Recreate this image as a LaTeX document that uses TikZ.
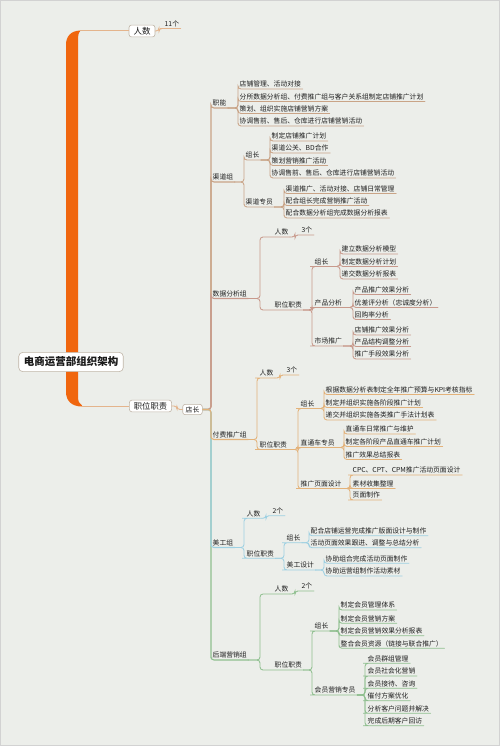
\documentclass[tikz,border=0pt]{standalone}
\usepackage{fontspec}
\newfontfamily\cjk{Noto Sans CJK SC}
\definecolor{bgc}{HTML}{ECEEEA}
\definecolor{boxc}{HTML}{BFB4A6}
\definecolor{orng}{HTML}{F0660E}
\definecolor{topc}{HTML}{E4B48C}
\definecolor{ca}{HTML}{C9A487}
\definecolor{cb}{HTML}{C8998C}
\definecolor{cc}{HTML}{E3B27A}
\definecolor{cd}{HTML}{9DD0E2}
\definecolor{ce}{HTML}{8FBF8F}
\newcommand\cn[4]{\draw[ln,#1] (#2.south east) -- (#2.south east -| #4) |- (#3.south west) -- (#3.south east);}
\newcommand\leaves[5]{\coordinate (T) at (#3,0);
  \foreach \yy/\tx [count=\i] in {#5}{\node[t] (#2-\i) at (#4,\yy) {\tx}; \cn{#1}{#2}{#2-\i}{T}}}
\newcommand\spn[2]{\draw[ln,line width=1.1pt,#1] (dz.east) -- (dz.east -| Ts) |- (#2.south west) -- (#2.south east);}
\begin{document}
\begin{tikzpicture}[x=1pt,y=-1pt,
  t/.style={font=\cjk\fontsize{6.8}{7}\selectfont, text=black!88, inner xsep=1.5pt, inner ysep=1.2pt, anchor=south west, text height=5.6pt, text depth=0.9pt},
  box/.style={draw=boxc, fill=white, rounded corners=2.5pt, line width=0.6pt, inner xsep=3pt, inner ysep=2pt, text=black!90},
  ln/.style={line width=0.85pt, rounded corners=3pt, line cap=round}]
\fill[bgc] (0,0) rectangle (500,746);
\useasboundingbox (0,0) rectangle (500,746);
\draw[gray!35, line width=0.8pt] (0.5,0.5) rectangle (499.5,745.5);
% orange bar
\fill[orng] (66,392) -- (66,45) .. controls (66,36) and (71,31) .. (80,30.5) -- (80,31.5) .. controls (78.5,32.5) and (78,35) .. (78,42) -- (78,396) .. controls (78,401) and (79,404) .. (82,405.5) -- (82,406.5) .. controls (72,406.5) and (66,401) .. (66,392) -- cycle;
\coordinate (bt) at (80,31);
\coordinate (bb) at (82,406);
% boxes
\node[box, font=\cjk\bfseries\fontsize{10.5}{12}\selectfont, inner xsep=5pt, inner ysep=4.5pt, rounded corners=4pt] (root) at (71,362) {电商运营部组织架构};
\node[box, font=\cjk\fontsize{8.5}{10}\selectfont, inner xsep=4.5pt] (rs) at (142,31) {人数};
\node[box, font=\cjk\fontsize{8.3}{10}\selectfont, inner xsep=4.5pt] (zz) at (150.5,406) {职位职责};
\node[box, font=\cjk\fontsize{6.8}{8}\selectfont] (dz) at (192.5,409.5) {店长};
\draw[topc, line width=1pt] (bt) -- (rs.west);
\draw[topc, line width=1pt] (bb) -- (zz.west);
\node[t] (n11) at (163,28.5) {11个};
\coordinate (T11) at (159,0);
\draw[ln,topc] (rs.east) -- (rs.east -| T11) |- (n11.south west) -- (n11.south east);
\coordinate (Tdz) at (177,0);
\draw[ln,topc] (zz.east) -- (zz.east -| Tdz) |- (dz.west);
% groups on spine
\coordinate (Ts) at (211,0);
\node[t] (zn) at (211,108) {职能};
\node[t] (qd) at (211,182) {渠道组};
\node[t] (sj) at (211,298.5) {数据分析组};
\node[t] (ff) at (211,439.5) {付费推广组};
\node[t] (mg) at (211,547.5) {美工组};
\node[t] (hd) at (211,660) {后端营销组};
\spn{ca}{zn}
\spn{ca}{qd}
\spn{cb}{sj}
\spn{ce}{hd}
\spn{cd}{mg}
\spn{cc}{ff}
% 职能
\leaves{ca}{zn}{238}{238}{89/店铺管理、活动对接, 101.5/分所数据分析组、付费推广组与客户关系组制定店铺推广计划, 113.5/策划、组织实施店铺营销方案, 126/协调售前、售后、仓库进行店铺营销活动}
% 渠道组
\coordinate (Tq) at (244,0);
\node[t] (qzz) at (244,160) {组长};
\node[t] (qzy) at (244,207) {渠道专员};
\cn{ca}{qd}{qzz}{Tq}
\cn{ca}{qd}{qzy}{Tq}
\leaves{ca}{qzz}{270}{270}{141/制定店铺推广计划, 153/渠道公关、BD合作, 165.5/策划营销推广活动, 178/协调售前、售后、仓库进行店铺营销活动}
\leaves{ca}{qzy}{284}{284}{193.5/渠道推广、活动对接、店铺日常管理, 205.5/配合组长完成营销推广活动, 218/配合数据分析组完成数据分析报表}
% 数据分析组
\coordinate (Tsj) at (260,0);
\node[t] (srs) at (273,237) {人数};
\node[t] (szz) at (273,310) {职位职责};
\cn{cb}{sj}{srs}{Tsj}
\cn{cb}{sj}{szz}{Tsj}
\leaves{cb}{srs}{295}{300}{235/3个}
\coordinate (Tsz) at (312,0);
\node[t] (dzl) at (313,266.5) {组长};
\node[t] (cpfx) at (313,307.5) {产品分析};
\node[t] (sctg) at (313,346) {市场推广};
\cn{cb}{szz}{dzl}{Tsz}
\cn{cb}{szz}{cpfx}{Tsz}
\cn{cb}{szz}{sctg}{Tsz}
\leaves{cb}{dzl}{340}{340}{254/建立数据分析模型, 266.5/制定数据分析计划, 279/递交数据分析报表}
\leaves{cb}{cpfx}{353}{353}{294.5/产品推广效果分析, 307.5/优差评分析（忠诚度分析）, 319.5/回购率分析}
\leaves{cb}{sctg}{353}{353}{335/店铺推广效果分析, 346.5/产品结构调整分析, 359/推广手段效果分析}
% 付费推广组
\coordinate (Tff) at (257,0);
\node[t] (frs) at (258,378) {人数};
\node[t] (fzz) at (258,449.5) {职位职责};
\cn{cc}{ff}{frs}{Tff}
\cn{cc}{ff}{fzz}{Tff}
\leaves{cc}{frs}{280}{285}{375/3个}
\coordinate (Tfz) at (298,0);
\node[t] (fzl) at (299,408.5) {组长};
\node[t] (ztc) at (299,447.5) {直通车专员};
\node[t] (tgym) at (299,488.5) {推广页面设计};
\cn{cc}{fzz}{fzl}{Tfz}
\cn{cc}{fzz}{ztc}{Tfz}
\cn{cc}{fzz}{tgym}{Tfz}
\leaves{cc}{fzl}{324}{324}{394.5/根据数据分析表制定全年推广预算与KPI考核指标, 407.5/制定并组织实施各阶段推广计划, 420/递交并组织实施各类推广手法计划表}
\leaves{cc}{ztc}{344}{344}{434/直通车日常推广与维护, 446.5/制定各阶段产品直通车推广计划, 459.5/推广效果总结报表}
\leaves{cc}{tgym}{350}{351}{475/CPC、CPT、CPM推广活动页面设计, 488.5/素材收集整理, 500/页面制作}
% 美工组
\coordinate (Tmg) at (244,0);
\node[t] (mrs) at (245,518.3) {人数};
\node[t] (mzz) at (245,558.3) {职位职责};
\cn{cd}{mg}{mrs}{Tmg}
\cn{cd}{mg}{mzz}{Tmg}
\leaves{cd}{mrs}{266}{271}{515.7/2个}
\coordinate (Tmz) at (284,0);
\node[t] (mzl) at (285,542.7) {组长};
\node[t] (mgsj) at (285,570) {美工设计};
\cn{cd}{mzz}{mzl}{Tmz}
\cn{cd}{mzz}{mgsj}{Tmz}
\leaves{cd}{mzl}{309}{309}{535.7/配合店铺运营完成推广版面设计与制作, 547.7/活动页面效果跟进、调整与总结分析}
\leaves{cd}{mgsj}{324}{324}{563.3/协助组合完成活动页面制作, 576/协助运营组制作活动素材}
% 后端营销组
\coordinate (Thd) at (260,0);
\node[t] (hrs) at (273,594) {人数};
\node[t] (hzz) at (273,670) {职位职责};
\cn{ce}{hd}{hrs}{Thd}
\cn{ce}{hd}{hzz}{Thd}
\leaves{ce}{hrs}{295}{300}{591/2个}
\coordinate (Thz) at (312,0);
\node[t] (hzl) at (313,631) {组长};
\node[t] (hyzy) at (313,695) {会员营销专员};
\cn{ce}{hzz}{hzl}{Thz}
\cn{ce}{hzz}{hyzy}{Thz}
\leaves{ce}{hzl}{339}{339}{610/制定会员管理体系, 623.3/制定会员营销方案, 635.7/制定会员营销效果分析报表, 648.3/整合会员资源（链接与联合推广）}
\leaves{ce}{hyzy}{365}{366}{663.3/会员群组管理, 676/会员社会化营销, 688.3/会员接待、咨询, 700.7/催付方案优化, 713.3/分析客户问题并解决, 725.7/完成后期客户回访}
\end{tikzpicture}
\end{document}
